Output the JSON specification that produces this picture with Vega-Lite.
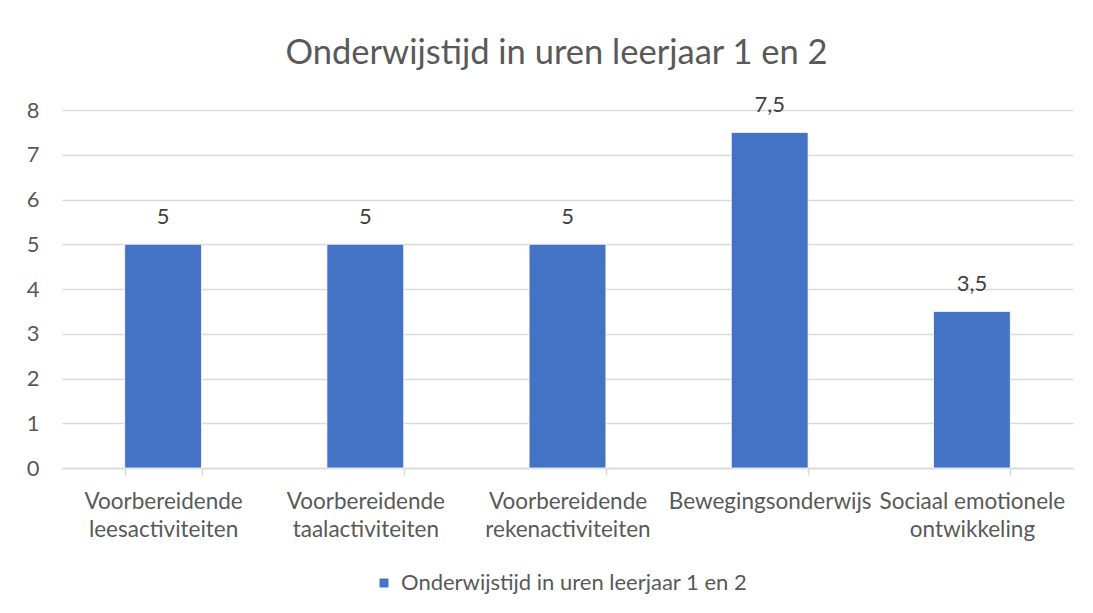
{
  "$schema": "https://vega.github.io/schema/vega-lite/v6.json",
  "width": 1011,
  "height": 358,
  "autosize": {"type": "none"},
  "padding": {"left": 62, "top": 110, "right": 20, "bottom": 145},
  "background": "white",
  "title": {
    "text": "Onderwijstijd in uren leerjaar 1 en 2",
    "frame": "group",
    "anchor": "middle",
    "baseline": "alphabetic",
    "offset": -4,
    "dx": -11,
    "font": "Lato",
    "fontSize": 34.5,
    "fontWeight": "normal",
    "color": "#595959",
    "limit": 0
  },
  "data": {
    "values": [
      {"categorie": "Voorbereidende leesactiviteiten", "uren": 5, "serie": "Onderwijstijd in uren leerjaar 1 en 2"},
      {"categorie": "Voorbereidende taalactiviteiten", "uren": 5, "serie": "Onderwijstijd in uren leerjaar 1 en 2"},
      {"categorie": "Voorbereidende rekenactiviteiten", "uren": 5, "serie": "Onderwijstijd in uren leerjaar 1 en 2"},
      {"categorie": "Bewegingsonderwijs", "uren": 7.5, "serie": "Onderwijstijd in uren leerjaar 1 en 2"},
      {"categorie": "Sociaal emotionele ontwikkeling", "uren": 3.5, "serie": "Onderwijstijd in uren leerjaar 1 en 2"}
    ]
  },
  "encoding": {
    "x": {
      "field": "categorie",
      "type": "nominal",
      "sort": null,
      "scale": {"paddingInner": 0.62, "paddingOuter": 0.31},
      "axis": {
        "title": null,
        "labelAngle": 0,
        "labelFont": "Lato",
        "labelFontSize": 22.5,
        "labelColor": "#595959",
        "labelBaseline": "alphabetic",
        "labelPadding": 33,
        "labelLineHeight": 28,
        "labelLimit": 400,
        "labelExpr": "datum.label == 'Sociaal emotionele ontwikkeling' ? ['Sociaal emotionele', 'ontwikkeling'] : split(datum.label, ' ')",
        "tickBand": "extent",
        "ticks": true,
        "tickSize": 7,
        "tickColor": "#D9D9D9",
        "tickWidth": 1.5,
        "domainColor": "#D9D9D9",
        "domainWidth": 1.5,
        "grid": false
      }
    },
    "y": {
      "field": "uren",
      "type": "quantitative",
      "scale": {"domain": [0, 8], "nice": false},
      "axis": {
        "title": null,
        "values": [0, 1, 2, 3, 4, 5, 6, 7, 8],
        "domain": false,
        "ticks": false,
        "labelFont": "Lato",
        "labelFontSize": 22,
        "labelColor": "#595959",
        "labelPadding": 23,
        "gridColor": "#D9D9D9",
        "gridWidth": 1.3
      }
    }
  },
  "layer": [
    {
      "mark": {"type": "bar", "stroke": "white", "strokeWidth": 0.8},
      "encoding": {
        "color": {
          "field": "serie",
          "type": "nominal",
          "scale": {"range": ["#4472C4"]},
          "legend": {
            "title": null,
            "orient": "none",
            "legendX": 311,
            "legendY": 462,
            "symbolType": "square",
            "symbolSize": 81,
            "symbolStrokeWidth": 0,
            "labelFont": "Lato",
            "labelFontSize": 22,
            "labelColor": "#595959",
            "labelOffset": 6,
            "labelLimit": 600
          }
        }
      }
    },
    {
      "mark": {
        "type": "text",
        "baseline": "alphabetic",
        "dy": -20,
        "font": "Lato",
        "fontSize": 22,
        "color": "#404040"
      },
      "encoding": {
        "text": {"field": "uren", "type": "quantitative", "format": "~g"}
      }
    }
  ],
  "config": {
    "view": {"stroke": null},
    "locale": {
      "number": {"decimal": ",", "thousands": ".", "grouping": [3], "currency": ["€", ""]}
    }
  }
}
